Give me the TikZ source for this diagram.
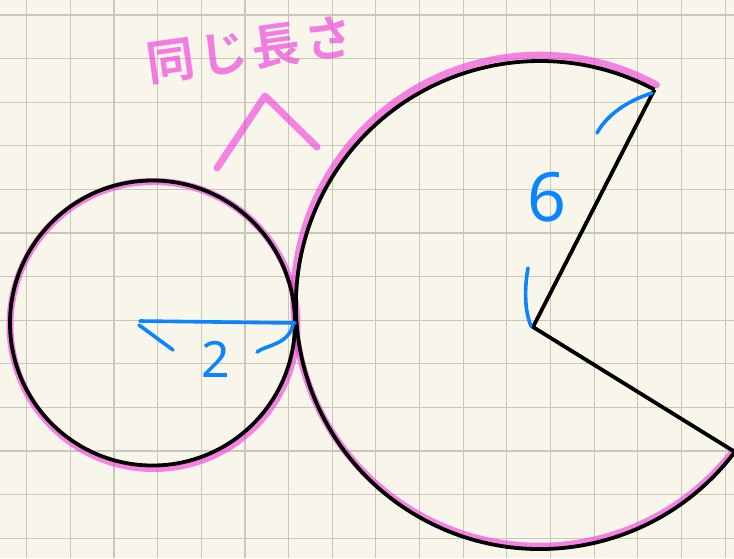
\documentclass[tikz,border=0pt]{standalone}
\usepackage{fontspec}
\newfontfamily\jpfont{Noto Sans CJK JP}[BoldFont={Noto Sans CJK JP Bold}]
\newfontfamily\digitfont{Noto Sans}
\usetikzlibrary{calc}
\definecolor{paper}{HTML}{F8F6EA}
\definecolor{gridgray}{HTML}{C9C7BC}
\definecolor{pinkink}{HTML}{F03CDC}
\definecolor{blueink}{HTML}{0A84FF}
\tikzset{
  gridline/.style={draw=gridgray, line width=1.1pt},
  outline/.style={draw=black, line width=3.8pt},
  hilite/.style={draw=pinkink, opacity=0.62, line width=7pt, line cap=round, line join=round},
  bluemark/.style={draw=blueink, line width=3.6pt, line cap=round, line join=round},
  pinktext/.style={text=pinkink, opacity=0.65, font=\jpfont\bfseries\fontsize{48}{48}\selectfont},
  bluetext/.style={text=blueink, font=\digitfont}
}
\begin{document}
\begin{tikzpicture}[x=1pt, y=-1pt]
  \useasboundingbox (0,0) rectangle (734,558);
  \fill[paper] (0,0) rectangle (734,558);
  % squared paper
  \foreach \k in {0,...,16}
    \draw[gridline] ({26.7+43.65*\k},0) -- ({26.7+43.65*\k},558);
  \foreach \k in {0,...,12}
    \draw[gridline] (0,{15+43.6*\k}) -- (734,{15+43.6*\k});
  % points
  \coordinate (sc) at (152.5,323);
  \coordinate (touch) at (295,323);
  \coordinate (ac) at (540,305);
  \coordinate (apex) at (533,327);
  \coordinate (tipA) at (654.5,89.6);
  \coordinate (tipB) at (735,452);
  % pink highlight on both curves
  \draw[hilite] (153.5,325) circle[radius=143.5];
  \draw[hilite] (656.5,85) arc[start angle=-61.5, end angle=-322, radius=245.5];
  % small circle and sector
  \draw[outline] (sc) circle[radius=142.5];
  \draw[outline] (tipA) arc[start angle=-62, end angle=-323, radius=244];
  \draw[outline] (tipA) -- (apex) -- (tipB);
  % radius 2
  \coordinate (rl) at (140,321);
  \draw[bluemark] (rl) -- (touch);
  \draw[bluemark] (139,325) -- (173,350);
  \draw[bluemark] (293,325) .. controls (288,345) and (266,345) .. (257,352);
  \node[bluetext, font=\digitfont\fontsize{50}{50}\selectfont] (two) at (216,359) {2};
  % radius 6
  \draw[bluemark] (652,93) .. controls (630,100) and (608,113) .. (597,133);
  \draw[bluemark] (528,268) .. controls (524,290) and (525,312) .. (531,326);
  \node[bluetext, font=\digitfont\fontsize{68}{68}\selectfont] (six) at (547,197) {6};
  % same length note
  \node[pinktext, rotate=8, inner sep=0pt] (note) at (250,50)
    {同\kern5pt じ\kern5pt 長\kern5pt さ};
  \draw[hilite] (217,168) -- (265,96) -- (317,147);
\end{tikzpicture}
\end{document}
